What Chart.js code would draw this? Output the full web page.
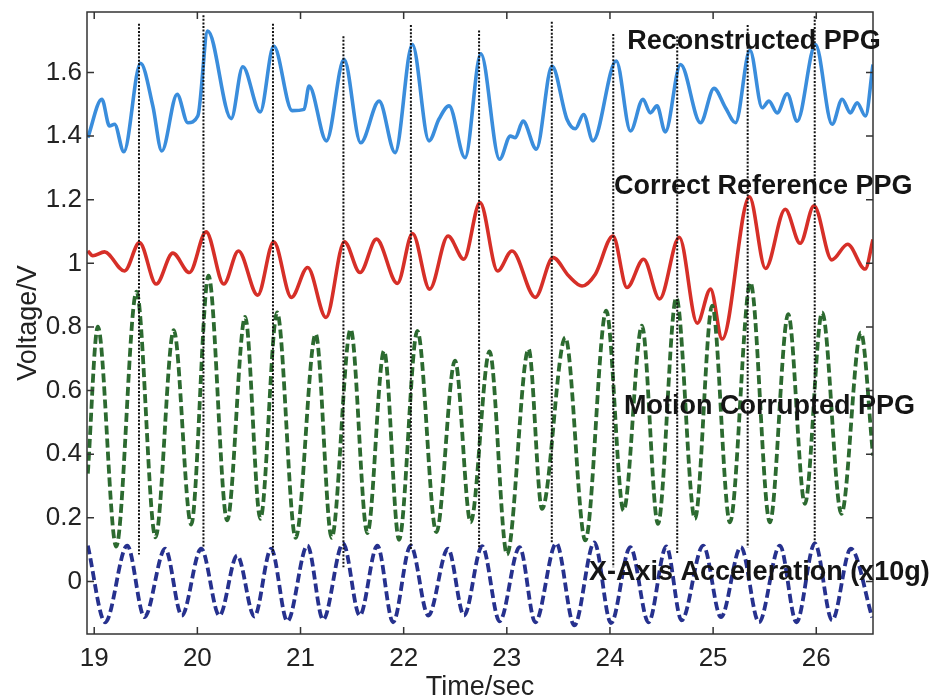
<!DOCTYPE html>
<html>
<head>
<meta charset="utf-8">
<title>PPG reconstruction</title>
<script src="https://cdn.jsdelivr.net/npm/chart.js@4.4.1/dist/chart.umd.min.js"></script>
<style>
  html, body { margin: 0; padding: 0; background: #fff; }
  canvas { display: block; }
</style>
</head>
<body>
<canvas id="ppgChart" width="937" height="700"></canvas>
<script>
// axis ticks
const xTicks = [19, 20, 21, 22, 23, 24, 25, 26];
const yTicks = [0, 0.2, 0.4, 0.6, 0.8, 1, 1.2, 1.4, 1.6];

// Reconstructed PPG (sec / V)
const reconTime = [18.938, 19.074, 19.148, 19.197, 19.287, 19.449, 19.568, 19.655, 19.804, 19.907, 20.004, 20.101,
    20.328, 20.440, 20.609, 20.740, 20.919, 21.035, 21.083, 21.251, 21.422, 21.583, 21.762, 21.917, 22.084,
    22.246, 22.343, 22.440, 22.595, 22.748, 22.930, 23.034, 23.082, 23.157, 23.286, 23.438, 23.583, 23.664,
    23.744, 23.835, 24.061, 24.199, 24.320, 24.391, 24.456, 24.536, 24.684, 24.878, 25.008, 25.120, 25.217,
    25.357, 25.476, 25.541, 25.621, 25.718, 25.815, 25.992, 26.154, 26.251, 26.331, 26.396, 26.477, 26.550];
const reconVolt = [1.395, 1.516, 1.432, 1.437, 1.351, 1.629, 1.495, 1.353, 1.531, 1.442, 1.463, 1.730,
    1.455, 1.618, 1.476, 1.683, 1.480, 1.484, 1.557, 1.385, 1.641, 1.379, 1.510, 1.348, 1.688,
    1.385, 1.454, 1.495, 1.332, 1.659, 1.327, 1.400, 1.395, 1.447, 1.359, 1.620, 1.453, 1.423,
    1.468, 1.385, 1.636, 1.416, 1.516, 1.473, 1.495, 1.413, 1.625, 1.442, 1.550, 1.489, 1.442,
    1.670, 1.489, 1.510, 1.473, 1.533, 1.447, 1.688, 1.437, 1.516, 1.473, 1.505, 1.463, 1.625];

// Correct Reference PPG
const refTime = [18.938, 18.986, 19.100, 19.294, 19.439, 19.601, 19.762, 19.923, 20.085, 20.256, 20.398, 20.585,
    20.740, 20.912, 21.069, 21.247, 21.425, 21.577, 21.736, 21.939, 22.086, 22.252, 22.430, 22.583, 22.740,
    22.911, 23.050, 23.276, 23.448, 23.599, 23.729, 23.858, 24.029, 24.165, 24.326, 24.481, 24.672, 24.846,
    24.975, 25.088, 25.352, 25.508, 25.699, 25.844, 25.978, 26.151, 26.304, 26.474, 26.550];
const refVolt = [1.039, 1.024, 1.036, 0.976, 1.065, 0.935, 1.032, 0.971, 1.099, 0.935, 1.039, 0.900,
    1.068, 0.893, 0.987, 0.830, 1.068, 0.971, 1.076, 0.937, 1.094, 0.919, 1.086, 1.013, 1.191,
    0.976, 1.039, 0.893, 1.018, 0.961, 0.929, 0.966, 1.086, 0.924, 1.013, 0.888, 1.082, 0.812,
    0.919, 0.762, 1.209, 0.984, 1.170, 1.063, 1.181, 1.011, 1.060, 0.982, 1.075];

// Motion Corrupted PPG
const motionTime = [18.938, 19.035, 19.213, 19.410, 19.594, 19.771, 19.940, 20.108, 20.289, 20.463, 20.611, 20.773,
    20.953, 21.147, 21.302, 21.486, 21.648, 21.810, 21.955, 22.133, 22.317, 22.498, 22.649, 22.833,
    23.002, 23.211, 23.341, 23.567, 23.761, 23.964, 24.132, 24.310, 24.465, 24.643, 24.824, 24.991,
    25.163, 25.362, 25.550, 25.728, 25.890, 26.057, 26.244, 26.432, 26.550];
const motionVolt = [0.339, 0.801, 0.110, 0.911, 0.139, 0.790, 0.179, 0.961, 0.192, 0.832, 0.197, 0.846,
    0.137, 0.778, 0.137, 0.793, 0.152, 0.725, 0.131, 0.788, 0.155, 0.694, 0.186, 0.723,
    0.085, 0.731, 0.228, 0.767, 0.129, 0.851, 0.223, 0.804, 0.181, 0.892, 0.197, 0.867,
    0.186, 0.940, 0.186, 0.840, 0.244, 0.846, 0.213, 0.783, 0.396];

// X-Axis Acceleration (x10g)
const accelTime = [18.938, 19.107, 19.320, 19.487, 19.688, 19.849, 20.037, 20.214, 20.386, 20.553, 20.715, 20.873,
    21.067, 21.219, 21.413, 21.574, 21.745, 21.897, 22.068, 22.239, 22.430, 22.585, 22.761, 22.930,
    23.124, 23.276, 23.480, 23.654, 23.848, 24.010, 24.197, 24.374, 24.546, 24.694, 24.904, 25.076,
    25.269, 25.444, 25.647, 25.808, 25.986, 26.154, 26.335, 26.542];
const accelVolt = [0.113, -0.128, 0.113, -0.112, 0.103, -0.107, 0.103, -0.107, 0.082, -0.110, 0.103, -0.125,
    0.113, -0.120, 0.120, -0.107, 0.113, -0.128, 0.113, -0.107, 0.103, -0.107, 0.111, -0.125,
    0.108, -0.128, 0.120, -0.138, 0.123, -0.131, 0.108, -0.128, 0.110, -0.122, 0.113, -0.112,
    0.108, -0.128, 0.113, -0.128, 0.120, -0.122, 0.103, -0.113];

// heartbeat markers (dotted verticals)
const beatTime = [19.434, 20.059, 20.733, 21.416, 22.070, 22.731, 23.436, 24.032, 24.652, 25.335, 25.985];
const beatTop = [1.753, 1.780, 1.753, 1.714, 1.749, 1.732, 1.759, 1.721, 1.714, 1.749, 1.777];
const beatBottom = [0.085, 0.106, 0.085, 0.045, 0.097, 0.108, 0.119, 0.045, 0.087, 0.108, 0.123];

const curveNames = ['Reconstructed PPG', 'Correct Reference PPG', 'Motion Corrupted PPG', 'X-Axis Acceleration (x10g)'];

const FONT = '"Liberation Sans", Arial, Helvetica, sans-serif';

function zip(ts, vs) {
    return ts.map((t, i) => ({ x: t, y: vs[i] }));
}

// label anchors: left edge / baseline in axis units
const labelAnchors = [
    { x: 24.168, y: 1.673 },
    { x: 24.039, y: 1.217 },
    { x: 24.136, y: 0.527 },
    { x: 23.797, y: 0.005 }
];

// frame, inward ticks on all four sides, and the curve labels
const matlabFrame = {
    id: 'matlabFrame',
    afterDatasetsDraw(chart) {
        const { ctx, chartArea: a, scales: { x, y } } = chart;
        const tl = 7;
        ctx.save();
        ctx.strokeStyle = '#333';
        ctx.lineWidth = 1.5;
        ctx.beginPath();
        xTicks.forEach(v => {
            const px = x.getPixelForValue(v);
            ctx.moveTo(px, a.bottom); ctx.lineTo(px, a.bottom - tl);
            ctx.moveTo(px, a.top); ctx.lineTo(px, a.top + tl);
        });
        yTicks.forEach(v => {
            const py = y.getPixelForValue(v);
            ctx.moveTo(a.left, py); ctx.lineTo(a.left + tl, py);
            ctx.moveTo(a.right, py); ctx.lineTo(a.right - tl, py);
        });
        ctx.stroke();
        ctx.strokeRect(a.left, a.top, a.right - a.left, a.bottom - a.top);

        ctx.fillStyle = '#151515';
        ctx.font = 'bold 27px ' + FONT;
        ctx.textAlign = 'left';
        ctx.textBaseline = 'alphabetic';
        curveNames.forEach((name, i) => {
            const p = labelAnchors[i];
            ctx.fillText(name, x.getPixelForValue(p.x), y.getPixelForValue(p.y));
        });
        ctx.restore();
    }
};

document.addEventListener('DOMContentLoaded', function () {
    const markerSets = beatTime.map((t, i) => ({
        data: [{ x: t, y: beatTop[i] }, { x: t, y: beatBottom[i] }],
        borderColor: '#111',
        borderWidth: 2,
        borderDash: [2, 1.6],
        tension: 0,
        order: 0
    }));

    const curveSets = [
        { label: curveNames[0], data: zip(reconTime, reconVolt), borderColor: '#3a8ddc', borderWidth: 3.6, order: 2 },
        { label: curveNames[1], data: zip(refTime, refVolt), borderColor: '#d62f28', borderWidth: 3.6, order: 2 },
        { label: curveNames[2], data: zip(motionTime, motionVolt), borderColor: '#2c6a30', borderWidth: 3.8, borderDash: [9, 4], order: 1 },
        { label: curveNames[3], data: zip(accelTime, accelVolt), borderColor: '#26318e', borderWidth: 3.8, borderDash: [9, 4], order: 1 }
    ].map(d => Object.assign({ cubicInterpolationMode: 'monotone' }, d));

    new Chart(document.getElementById('ppgChart'), {
        type: 'line',
        data: { datasets: markerSets.concat(curveSets) },
        options: {
            responsive: false,
            animation: false,
            events: [],
            elements: { point: { radius: 0 } },
            layout: { padding: { top: 12, right: 64, left: 0, bottom: 0 } },
            plugins: { legend: { display: false }, tooltip: { enabled: false } },
            scales: {
                x: {
                    type: 'linear',
                    min: 18.93,
                    max: 26.55,
                    afterFit: s => { s.height = 66; s.paddingLeft = 0; s.paddingRight = 0; },
                    afterBuildTicks: s => { s.ticks = xTicks.map(v => ({ value: v })); },
                    grid: { display: false, drawTicks: false },
                    border: { display: false },
                    ticks: { color: '#222', padding: 9, maxRotation: 0, font: { family: FONT, size: 26 },
                        callback: v => String(v) },
                    title: { display: true, text: 'Time/sec', color: '#222',
                        font: { family: FONT, size: 27, lineHeight: 1 }, padding: { top: 0, bottom: -1 } }
                },
                y: {
                    min: -0.165,
                    max: 1.79,
                    afterFit: s => { s.width = 87; s.paddingTop = 0; s.paddingBottom = 0; },
                    afterBuildTicks: s => { s.ticks = yTicks.map(v => ({ value: v })); },
                    grid: { display: false, drawTicks: false },
                    border: { display: false },
                    ticks: { color: '#222', padding: 5, font: { family: FONT, size: 26 },
                        callback: v => String(+v.toFixed(1)) },
                    title: { display: true, text: 'Voltage/V', color: '#222',
                        font: { family: FONT, size: 27, lineHeight: 1 }, padding: { top: 15, bottom: 0 } }
                }
            }
        },
        plugins: [matlabFrame]
    });
});
</script>
</body>
</html>
